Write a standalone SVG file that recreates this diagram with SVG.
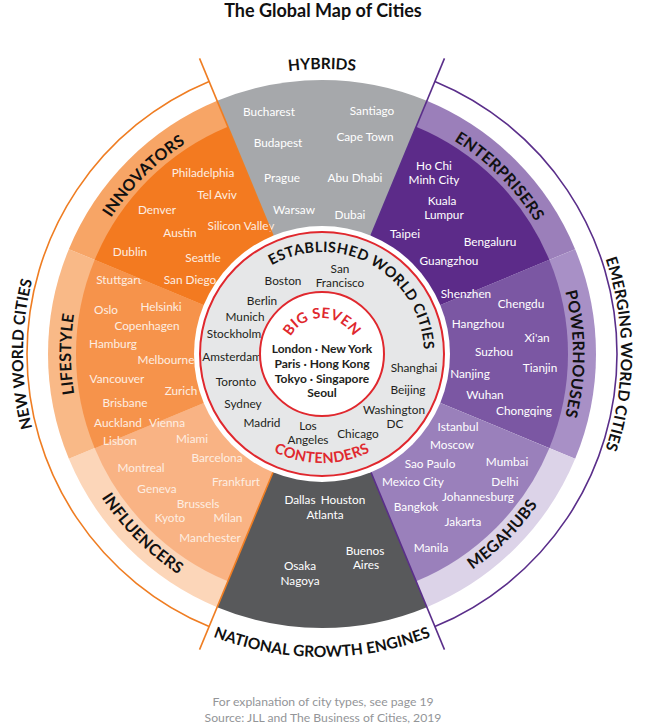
<svg xmlns="http://www.w3.org/2000/svg" width="647" height="726" viewBox="0 0 647 726">
<style>
text{font-family:Lato,"Open Sans","Liberation Sans",sans-serif}
.c{font-size:11.8px;fill:#fff;text-anchor:middle}
.co{font-size:11.8px;fill:#fdeee2;text-anchor:middle}
.e{font-size:11.8px;fill:#231f20;text-anchor:middle}
.b7{font-size:12px;font-weight:700;fill:#231f20;text-anchor:middle}
.lab{font-size:16px;font-weight:700;fill:#111;letter-spacing:0.3px}
.out{font-size:15.5px;font-weight:700;fill:#111}
.red{font-size:14.5px;font-weight:700;fill:#e0282e;letter-spacing:0.3px}
.est{font-size:14.5px;font-weight:700;fill:#111;letter-spacing:0.4px}
.foot{font-size:12.2px;fill:#939598;text-anchor:middle}
.ol{stroke:#ef7d22;stroke-width:1.6;fill:none}
.pl{stroke:#5a2e8a;stroke-width:1.6;fill:none}
</style>
<defs>
<path id="pHyb" d="M138.805 135.679 A285 285 0 0 1 505.195 135.679"/>
<path id="pNge" d="M59.594 505.5 A303 303 0 0 0 584.406 505.5"/>
<path id="pEst" d="M233.665 303 A102 102 0 0 1 412.061 401.886"/>
<path id="pBig" d="M286.547 347.749 A36 36 0 0 1 357.453 347.749"/>
<path id="pCon" d="M219.574 391.28 A109 109 0 0 0 424.426 391.28"/>
<path id="pInn" d="M71.956 332.123 A251 251 0 0 1 300.123 103.956"/>
<path id="pEnt" d="M343.877 103.956 A251 251 0 0 1 572.044 332.123"/>
<path id="pLif" d="M129.723 515.34 A251 251 0 0 1 129.723 192.66"/>
<path id="pPow" d="M514.277 192.66 A251 251 0 0 1 514.277 515.34"/>
<path id="pMeg" d="M344.923 616 A263 263 0 0 0 584 376.923"/>
<path id="pInf" d="M60 376.923 A263 263 0 0 0 299.077 616"/>
<path id="pNew" d="M92.954 546.194 A299 299 0 0 1 92.954 161.806"/>
<path id="pEme" d="M551.046 161.806 A299 299 0 0 1 551.046 546.194"/>
</defs>
<rect width="647" height="726" fill="#fff"/>
<text x="323" y="17" text-anchor="middle" style="font-size:18px;font-weight:700;fill:#111">The Global Map of Cities</text>

<g id="hybrids">
<path d="M322 354 L217.145 100.857 A274 274 0 0 1 426.855 100.857 Z" fill="#a6a8ab"/>
<text class="out"><textPath href="#pHyb" startOffset="50%" text-anchor="middle">HYBRIDS</textPath></text>
<text class="c" x="269" y="116">Bucharest</text>
<text class="c" x="372" y="115">Santiago</text>
<text class="c" x="278" y="147">Budapest</text>
<text class="c" x="365" y="141">Cape Town</text>
<text class="c" x="282" y="182">Prague</text>
<text class="c" x="355" y="182">Abu Dhabi</text>
<text class="c" x="294" y="214">Warsaw</text>
<text class="c" x="350" y="219">Dubai</text>
</g>

<g id="enterprisers">
<path d="M322 354 L426.855 100.857 A274 274 0 0 1 575.143 249.145 Z" fill="#9b7fba"/>
<path d="M322 354 L416.139 126.726 A246 246 0 0 1 549.274 259.861 Z" fill="#5c2b89"/>
<text class="lab"><textPath href="#pEnt" startOffset="50%" text-anchor="middle">ENTERPRISERS</textPath></text>
<text class="c" x="434" y="170">Ho Chi</text>
<text class="c" x="434" y="184">Minh City</text>
<text class="c" x="442" y="205">Kuala</text>
<text class="c" x="444" y="219">Lumpur</text>
<text class="c" x="405" y="238">Taipei</text>
<text class="c" x="490" y="246">Bengaluru</text>
<text class="c" x="449" y="265">Guangzhou</text>
</g>

<g id="powerhouses">
<path d="M322 354 L575.143 249.145 A274 274 0 0 1 575.143 458.855 Z" fill="#a890c6"/>
<path d="M322 354 L549.274 259.861 A246 246 0 0 1 549.274 448.139 Z" fill="#7b57a3"/>
<text class="lab"><textPath href="#pPow" startOffset="50%" text-anchor="middle">POWERHOUSES</textPath></text>
<text class="c" x="466" y="298">Shenzhen</text>
<text class="c" x="521" y="308">Chengdu</text>
<text class="c" x="478" y="328">Hangzhou</text>
<text class="c" x="537" y="342">Xi'an</text>
<text class="c" x="494" y="356">Suzhou</text>
<text class="c" x="540" y="372">Tianjin</text>
<text class="c" x="470" y="378">Nanjing</text>
<text class="c" x="485" y="399">Wuhan</text>
<text class="c" x="524" y="415">Chongqing</text>
</g>

<g id="megahubs">
<path d="M322 354 L575.143 458.855 A274 274 0 0 1 426.855 607.143 Z" fill="#dcd3e8"/>
<path d="M322 354 L549.274 448.139 A246 246 0 0 1 416.139 581.274 Z" fill="#9a80bb"/>
<text class="lab"><textPath href="#pMeg" startOffset="50%" text-anchor="middle">MEGAHUBS</textPath></text>
<text class="c" x="458" y="431">Istanbul</text>
<text class="c" x="452" y="449">Moscow</text>
<text class="c" x="430" y="468">Sao Paulo</text>
<text class="c" x="507" y="466">Mumbai</text>
<text class="c" x="413" y="486">Mexico City</text>
<text class="c" x="505" y="486">Delhi</text>
<text class="c" x="478" y="501">Johannesburg</text>
<text class="c" x="416" y="511">Bangkok</text>
<text class="c" x="463" y="526">Jakarta</text>
<text class="c" x="431" y="552">Manila</text>
</g>

<g id="national-growth-engines">
<path d="M322 354 L426.855 607.143 A274 274 0 0 1 217.145 607.143 Z" fill="#58595b"/>
<text class="out"><textPath href="#pNge" startOffset="50%" text-anchor="middle">NATIONAL GROWTH ENGINES</textPath></text>
<text class="c" x="300" y="504">Dallas</text>
<text class="c" x="343" y="504">Houston</text>
<text class="c" x="325" y="519">Atlanta</text>
<text class="c" x="365" y="555">Buenos</text>
<text class="c" x="366" y="569">Aires</text>
<text class="c" x="300" y="570">Osaka</text>
<text class="c" x="300" y="585">Nagoya</text>
</g>

<g id="influencers">
<path d="M322 354 L217.145 607.143 A274 274 0 0 1 68.857 458.855 Z" fill="#fcd6b9"/>
<path d="M322 354 L227.861 581.274 A246 246 0 0 1 94.726 448.139 Z" fill="#f9b384"/>
<text class="lab"><textPath href="#pInf" startOffset="50%" text-anchor="middle">INFLUENCERS</textPath></text>
<text class="co" x="217" y="462">Barcelona</text>
<text class="co" x="141" y="472">Montreal</text>
<text class="co" x="236" y="486">Frankfurt</text>
<text class="co" x="157" y="493">Geneva</text>
<text class="co" x="198" y="508">Brussels</text>
<text class="co" x="170" y="522">Kyoto</text>
<text class="co" x="228" y="522">Milan</text>
<text class="co" x="210" y="542">Manchester</text>
</g>

<g id="lifestyle">
<path d="M322 354 L68.857 458.855 A274 274 0 0 1 68.857 249.145 Z" fill="#f9b987"/>
<path d="M322 354 L94.726 448.139 A246 246 0 0 1 94.726 259.861 Z" fill="#f6934b"/>
<text class="lab"><textPath href="#pLif" startOffset="50%" text-anchor="middle">LIFESTYLE</textPath></text>
<text class="co" x="119" y="284">Stuttgart</text>
<text class="co" x="106" y="314">Oslo</text>
<text class="co" x="161" y="311">Helsinki</text>
<text class="co" x="147" y="330">Copenhagen</text>
<text class="co" x="113" y="348">Hamburg</text>
<text class="co" x="166" y="364">Melbourne</text>
<text class="co" x="117" y="383">Vancouver</text>
<text class="co" x="181" y="395">Zurich</text>
<text class="co" x="125" y="407">Brisbane</text>
<text class="co" x="118" y="427">Auckland</text>
<text class="co" x="167" y="427">Vienna</text>
<text class="co" x="120" y="445">Lisbon</text>
<text class="co" x="192" y="443">Miami</text>
</g>

<g id="innovators">
<path d="M322 354 L68.857 249.145 A274 274 0 0 1 217.145 100.857 Z" fill="#f7a566"/>
<path d="M322 354 L94.726 259.861 A246 246 0 0 1 227.861 126.726 Z" fill="#f37a20"/>
<text class="lab"><textPath href="#pInn" startOffset="50%" text-anchor="middle">INNOVATORS</textPath></text>
<text class="co" x="203" y="177">Philadelphia</text>
<text class="co" x="217" y="199">Tel Aviv</text>
<text class="co" x="157" y="214">Denver</text>
<text class="co" x="241" y="230">Silicon Valley</text>
<text class="co" x="180" y="237">Austin</text>
<text class="co" x="130" y="256">Dublin</text>
<text class="co" x="203" y="262">Seattle</text>
<text class="co" x="190" y="284">San Diego</text>
</g>

<g id="connectors">
<line class="ol" x1="273.017" y1="235.743" x2="199.542" y2="58.358"/>
<line class="ol" x1="273.017" y1="472.257" x2="199.542" y2="649.642"/>
<path class="ol" d="M209.109 81.455 A295 295 0 0 0 209.109 626.545"/>
<line class="pl" x1="370.983" y1="235.743" x2="444.458" y2="58.358"/>
<line class="pl" x1="370.983" y1="472.257" x2="444.458" y2="649.642"/>
<path class="pl" d="M434.891 81.455 A295 295 0 0 1 434.891 626.545"/>
</g>

<g id="new-world-cities">
<text class="out"><textPath href="#pNew" startOffset="50%" text-anchor="middle">NEW WORLD CITIES</textPath></text>
</g>
<g id="emerging-world-cities">
<text class="out"><textPath href="#pEme" startOffset="50%" text-anchor="middle">EMERGING WORLD CITIES</textPath></text>
</g>

<g id="established-world-cities">
<circle cx="322" cy="354" r="128" fill="#fff"/>
<circle cx="322" cy="354" r="122" fill="#e6e7e8" stroke="#e0282e" stroke-width="2"/>
<text class="est"><textPath href="#pEst" startOffset="50%" text-anchor="middle">ESTABLISHED WORLD CITIES</textPath></text>
<text class="red"><textPath href="#pCon" startOffset="50%" text-anchor="middle">CONTENDERS</textPath></text>
<text class="e" x="283" y="285">Boston</text>
<text class="e" x="340" y="273">San</text>
<text class="e" x="340" y="287">Francisco</text>
<text class="e" x="262" y="305">Berlin</text>
<text class="e" x="245" y="321">Munich</text>
<text class="e" x="234" y="338">Stockholm</text>
<text class="e" x="232" y="361">Amsterdam</text>
<text class="e" x="236" y="386">Toronto</text>
<text class="e" x="243" y="408">Sydney</text>
<text class="e" x="262" y="427">Madrid</text>
<text class="e" x="308" y="430">Los</text>
<text class="e" x="308" y="444">Angeles</text>
<text class="e" x="358" y="438">Chicago</text>
<text class="e" x="394" y="414">Washington</text>
<text class="e" x="395" y="428">DC</text>
<text class="e" x="408" y="394">Beijing</text>
<text class="e" x="414" y="372">Shanghai</text>
</g>

<g id="big-seven">
<circle cx="322" cy="354" r="62" fill="#fff" stroke="#e0282e" stroke-width="2"/>
<text class="red"><textPath href="#pBig" startOffset="50%" text-anchor="middle">BIG SEVEN</textPath></text>
<text class="b7" x="322" y="353">London · New York</text>
<text class="b7" x="322" y="368">Paris · Hong Kong</text>
<text class="b7" x="322" y="383">Tokyo · Singapore</text>
<text class="b7" x="322" y="397">Seoul</text>
</g>

<text class="foot" x="323" y="706">For explanation of city types, see page 19</text>
<text class="foot" x="323" y="722">Source: JLL and The Business of Cities, 2019</text>
</svg>
